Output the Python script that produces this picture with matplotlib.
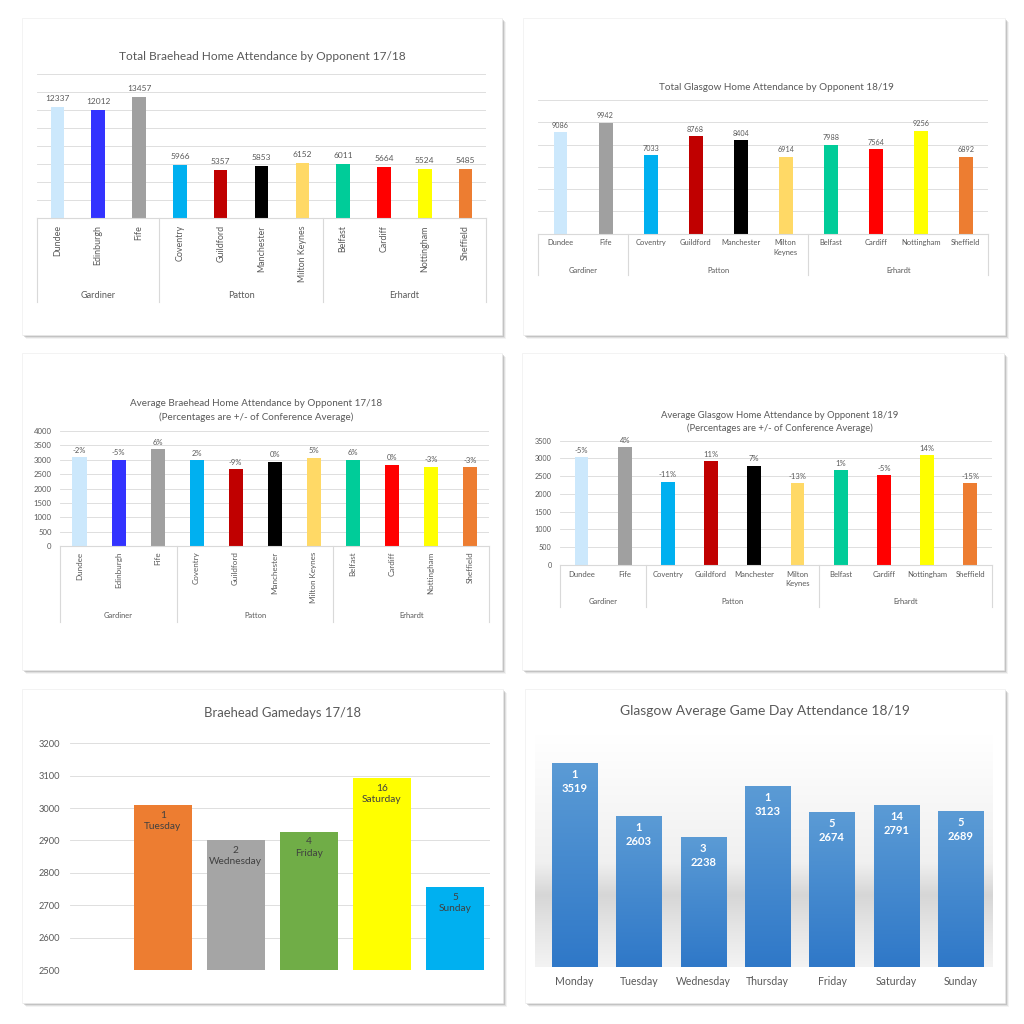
import numpy as np
import matplotlib
matplotlib.use('Agg')
import matplotlib.pyplot as plt
import matplotlib.transforms as mtransforms
from matplotlib.patches import Rectangle
from matplotlib.colors import LinearSegmentedColormap

# ---- data ----
teams_1718 = ['Dundee', 'Edinburgh', 'Fife', 'Coventry', 'Guildford', 'Manchester',
              'Milton Keynes', 'Belfast', 'Cardiff', 'Nottingham', 'Sheffield']
groups_1718 = ['Gardiner', 'Patton', 'Erhardt']
group_sizes_1718 = [3, 4, 4]
total_1718 = [12337, 12012, 13457, 5966, 5357, 5853, 6152, 6011, 5664, 5524, 5485]
avg_1718 = [3084, 3003, 3364, 2983, 2679, 2927, 3076, 3006, 2832, 2762, 2743]
pct_1718 = ['-2%', '-5%', '6%', '2%', '-9%', '0%', '5%', '6%', '0%', '-3%', '-3%']
colors_1718 = ['#cce8fc', '#3333ff', '#a0a0a0', '#00b0f0', '#c00000', '#000000',
               '#ffd966', '#00cc99', '#ff0000', '#ffff00', '#ed7d31']

teams_1819 = ['Dundee', 'Fife', 'Coventry', 'Guildford', 'Manchester', 'Milton\nKeynes',
              'Belfast', 'Cardiff', 'Nottingham', 'Sheffield']
groups_1819 = ['Gardiner', 'Patton', 'Erhardt']
group_sizes_1819 = [2, 4, 4]
total_1819 = [9086, 9942, 7033, 8768, 8404, 6914, 7988, 7564, 9256, 6892]
avg_1819 = [3029, 3314, 2344, 2923, 2801, 2305, 2663, 2521, 3085, 2297]
pct_1819 = ['-5%', '4%', '-11%', '11%', '7%', '-13%', '1%', '-5%', '14%', '-15%']
colors_1819 = ['#cce8fc', '#a0a0a0', '#00b0f0', '#c00000', '#000000',
               '#ffd966', '#00cc99', '#ff0000', '#ffff00', '#ed7d31']

days_1718 = ['Tuesday', 'Wednesday', 'Friday', 'Saturday', 'Sunday']
games_1718 = [1, 2, 4, 16, 5]
day_avg_1718 = [3008, 2900, 2927, 3092, 2755]
day_colors_1718 = ['#ed7d31', '#a5a5a5', '#70ad47', '#ffff00', '#00b0f0']

days_1819 = ['Monday', 'Tuesday', 'Wednesday', 'Thursday', 'Friday', 'Saturday', 'Sunday']
games_1819 = [1, 1, 3, 1, 5, 14, 5]
day_avg_1819 = [3519, 2603, 2238, 3123, 2674, 2791, 2689]

# ---- setup ----
W = H = 1024
plt.rcParams['font.family'] = ['Lato', 'DejaVu Sans']
TXT = '#595959'
GRID = '#d9d9d9'

fig = plt.figure(figsize=(10.24, 10.24), dpi=100)


def add_ax(l, t, r, b):
    ax = fig.add_axes([l / W, 1 - b / H, (r - l) / W, (b - t) / H])
    ax.patch.set_alpha(0)
    return ax


def ftext(x, y, s, **kw):
    fig.text(x / W, 1 - y / H, s, ha='center', va='center', color=TXT, **kw)


def card(l, t, r, b):
    for off, a in [(4, 0.08), (3, 0.15), (2, 0.25), (1, 0.35)]:
        fig.add_artist(Rectangle(((l + off) / W, 1 - (b + off) / H), (r - l) / W, (b - t) / H,
                                 transform=fig.transFigure, fc='#707070', ec='none',
                                 alpha=a, zorder=-3))
    fig.add_artist(Rectangle((l / W, 1 - b / H), (r - l) / W, (b - t) / H,
                             transform=fig.transFigure, fc='white', ec='#eeeeee',
                             lw=0.5, zorder=-2))


def style_ax(ax):
    for s in ['top', 'right', 'left']:
        ax.spines[s].set_visible(False)
    ax.spines['bottom'].set_color(GRID)
    ax.tick_params(length=0, colors=TXT)
    ax.yaxis.grid(True, color=GRID, lw=0.6)
    ax.set_axisbelow(True)


def group_axis(ax, sizes, names, label_frac, line_frac, fs):
    trans = mtransforms.blended_transform_factory(ax.transData, ax.transAxes)
    edges = np.concatenate([[0], np.cumsum(sizes)]) - 0.5
    for e in edges:
        ax.plot([e, e], [0, line_frac], transform=trans, clip_on=False, color=GRID, lw=0.8)
    for i, name in enumerate(names):
        ax.text((edges[i] + edges[i + 1]) / 2, label_frac, name, transform=trans,
                ha='center', va='center', fontsize=fs, color=TXT)


cards = [(22, 18, 502, 335), (523, 18, 1005, 335),
         (22, 353, 502, 670), (522, 353, 1004, 670),
         (22, 689, 503, 1003), (525, 689, 1005, 1003)]
for c in cards:
    card(*c)

# ---- chart 1: total Braehead 17/18 ----
ax1 = add_ax(37, 74.3, 486, 218.3)
style_ax(ax1)
x = np.arange(len(teams_1718))
b = ax1.bar(x, total_1718, width=0.33, color=colors_1718)
ax1.bar_label(b, labels=[str(v) for v in total_1718], padding=3.5, fontsize=6, color=TXT)
ax1.set_ylim(0, 16000)
ax1.set_yticks(np.arange(0, 16001, 2000))
ax1.set_yticklabels([])
ax1.set_xlim(-0.5, len(teams_1718) - 0.5)
ax1.set_xticks(x)
ax1.set_xticklabels(teams_1718, rotation=90, fontsize=6.4, color=TXT)
ax1.tick_params(axis='x', pad=5)
group_axis(ax1, group_sizes_1718, groups_1718, (218.3 - 295.7) / 144, (218.3 - 301.7) / 144, 6.6)
ftext(262, 57, 'Total Braehead Home Attendance by Opponent 17/18', fontsize=8.6)

# ---- chart 2: total Glasgow 18/19 ----
ax2 = add_ax(538, 100, 988.3, 233.7)
style_ax(ax2)
x = np.arange(len(teams_1819))
b = ax2.bar(x, total_1819, width=0.31, color=colors_1819)
ax2.bar_label(b, labels=[str(v) for v in total_1819], padding=2.5, fontsize=5.2, color=TXT)
ax2.set_ylim(0, 12000)
ax2.set_yticks(np.arange(0, 12001, 2000))
ax2.set_yticklabels([])
ax2.set_xlim(-0.5, len(teams_1819) - 0.5)
ax2.set_xticks(x)
ax2.set_xticklabels(teams_1819, fontsize=5.4, color=TXT, linespacing=1.4)
ax2.tick_params(axis='x', pad=4)
group_axis(ax2, group_sizes_1819, groups_1819, (233.7 - 270) / 133.7, (233.7 - 275) / 133.7, 5.4)
ftext(776, 87, 'Total Glasgow Home Attendance by Opponent 18/19', fontsize=7.1)

# ---- chart 3: average Braehead 17/18 ----
ax3 = add_ax(60, 431, 489.3, 546)
style_ax(ax3)
x = np.arange(len(teams_1718))
b = ax3.bar(x, avg_1718, width=0.36, color=colors_1718)
ax3.bar_label(b, labels=pct_1718, padding=2.5, fontsize=5.5, color=TXT)
ax3.set_ylim(0, 4000)
ax3.set_yticks(np.arange(0, 4001, 500))
ax3.tick_params(axis='y', labelsize=5.6, pad=6)
ax3.set_xlim(-0.5, len(teams_1718) - 0.5)
ax3.set_xticks(x)
ax3.set_xticklabels(teams_1718, rotation=90, fontsize=5.8, color=TXT)
ax3.tick_params(axis='x', pad=4)
group_axis(ax3, group_sizes_1718, groups_1718, (546 - 616) / 115, (546 - 621.7) / 115, 5.4)
ftext(256, 404, 'Average Braehead Home Attendance by Opponent 17/18', fontsize=7.1)
ftext(256, 417, '(Percentages are +/- of Conference Average)', fontsize=7.1)

# ---- chart 4: average Glasgow 18/19 ----
ax4 = add_ax(560, 440.7, 991.7, 565)
style_ax(ax4)
x = np.arange(len(teams_1819))
b = ax4.bar(x, avg_1819, width=0.32, color=colors_1819)
ax4.bar_label(b, labels=pct_1819, padding=2.5, fontsize=5.5, color=TXT)
ax4.set_ylim(0, 3500)
ax4.set_yticks(np.arange(0, 3501, 500))
ax4.tick_params(axis='y', labelsize=5.2, pad=6)
ax4.set_xlim(-0.5, len(teams_1819) - 0.5)
ax4.set_xticks(x)
ax4.set_xticklabels(teams_1819, fontsize=5.5, color=TXT, linespacing=1.4)
ax4.tick_params(axis='x', pad=4)
group_axis(ax4, group_sizes_1819, groups_1819, (565 - 602) / 124.3, (565 - 607) / 124.3, 5.4)
ftext(780, 416, 'Average Glasgow Home Attendance by Opponent 18/19', fontsize=6.8)
ftext(780, 428, '(Percentages are +/- of Conference Average)', fontsize=6.8)

# ---- chart 5: Braehead gamedays 17/18 ----
ax5 = add_ax(70, 743.3, 490, 970)
style_ax(ax5)
x = np.arange(len(days_1718))
ax5.bar(x, day_avg_1718, width=0.8, color=day_colors_1718)
for i in range(len(days_1718)):
    ax5.annotate(f'{games_1718[i]}\n{days_1718[i]}', xy=(x[i], day_avg_1718[i]),
                 xytext=(0, -4), textcoords='offset points', ha='center', va='top',
                 fontsize=7.3, color='#404040', linespacing=1.35)
ax5.set_ylim(2500, 3200)
ax5.set_yticks(np.arange(2500, 3201, 100))
ax5.tick_params(axis='y', labelsize=6.7, pad=7)
ax5.set_xlim(-1.27, 4.48)
ax5.set_xticks([])
ax5.spines['bottom'].set_visible(False)
ftext(283, 713, 'Braehead Gamedays 17/18', fontsize=9.4)

# ---- chart 6: Glasgow average game day 18/19 ----
ax6 = add_ax(535, 735, 993, 966.7)
for s in ax6.spines.values():
    s.set_visible(False)
bg = LinearSegmentedColormap.from_list('bg', [(0, '#f3f3f3'), (0.18, '#e4e4e4'),
                                              (0.31, '#d6d6d6'), (0.45, '#f0f0f0'),
                                              (1, '#ffffff')])
ax6.imshow(np.linspace(0, 1, 256).reshape(-1, 1), extent=[0, 1, 0, 1], transform=ax6.transAxes,
           cmap=bg, aspect='auto', origin='lower', zorder=0)
bar_cmap = LinearSegmentedColormap.from_list('bl', ['#2f78c8', '#5b9bd5'])
x = np.arange(len(days_1819))
bars = ax6.bar(x, day_avg_1819, width=0.7, color='none', zorder=2)
for i, r in enumerate(bars):
    im = ax6.imshow(np.linspace(0, 1, 256).reshape(-1, 1),
                    extent=[r.get_x(), r.get_x() + r.get_width(), 0, r.get_height()],
                    cmap=bar_cmap, aspect='auto', origin='lower', zorder=3)
    im.set_clip_path(r)
    ax6.annotate(f'{games_1819[i]}\n{day_avg_1819[i]}', xy=(x[i], day_avg_1819[i]),
                 xytext=(0, -4.5), textcoords='offset points', ha='center', va='top',
                 fontsize=8, fontweight='bold', color='white', linespacing=1.3, zorder=4)
ax6.set_xlim(-0.61, 6.5)
ax6.set_ylim(0, 4000)
ax6.set_yticks([])
ax6.set_xticks(x)
ax6.set_xticklabels(days_1819, fontsize=7.6, color=TXT)
ax6.tick_params(axis='x', length=0, pad=7)
ftext(765, 711, 'Glasgow Average Game Day Attendance 18/19', fontsize=10)

fig.savefig('out.png', dpi=100, facecolor='white')
